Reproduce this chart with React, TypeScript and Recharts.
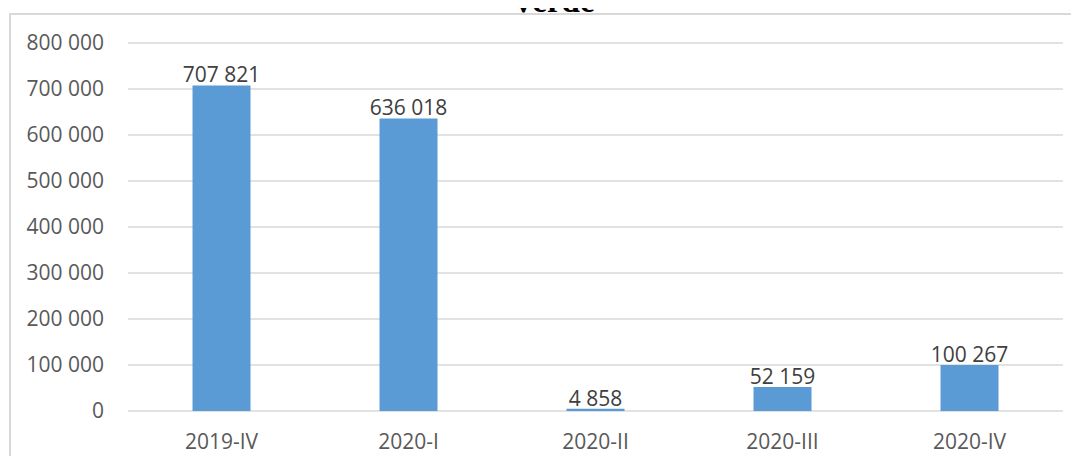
import React from 'react';
import { BarChart, Bar, XAxis, YAxis, CartesianGrid, LabelList } from 'recharts';

const categories = ['2019-IV', '2020-I', '2020-II', '2020-III', '2020-IV'];
const values = [707821, 636018, 4858, 52159, 100267];
const yTicks = [0, 100000, 200000, 300000, 400000, 500000, 600000, 700000, 800000];

const chartData = categories.map((name, i) => ({ name, value: values[i] }));

// 707821 -> "707 821"
const fmt = (n: number) => String(n).replace(/\B(?=(\d{3})+(?!\d))/g, ' ');
// bar labels get the bar width and would wrap on a normal space
const fmtLabel = (n: number) => String(n).replace(/\B(?=(\d{3})+(?!\d))/g, '\u00a0');

const font = '"Open Sans", sans-serif';

const App: React.FC = () => {
    return (
        <div style={{ position: 'relative', width: 1079, height: 464, margin: -8, overflow: 'hidden', background: '#fff' }}>
            {/* chart frame, right and bottom edges sit outside the picture */}
            <div
                style={{
                    position: 'absolute',
                    left: 9,
                    top: 13,
                    width: 1100,
                    height: 500,
                    borderLeft: '2px solid #d9d9d9',
                    borderTop: '2px solid #d9d9d9',
                }}
            />
            <div style={{ position: 'absolute', left: 0, top: 0 }}>
                <BarChart
                    width={1079}
                    height={464}
                    data={chartData}
                    margin={{ top: 43, right: 16, left: 0, bottom: 0 }}
                    barCategoryGap="34.5%"
                >
                    <CartesianGrid vertical={false} stroke="#d9d9d9" strokeWidth={1.5} />
                    <XAxis
                        dataKey="name"
                        axisLine={false}
                        tickLine={false}
                        tickSize={0}
                        tickMargin={23}
                        height={53}
                        tick={{ fill: '#595959', fontSize: 21, fontFamily: font }}
                    />
                    <YAxis
                        width={128}
                        domain={[0, 800000]}
                        ticks={yTicks}
                        interval={0}
                        axisLine={false}
                        tickLine={false}
                        tickSize={0}
                        tickMargin={24}
                        tickFormatter={fmt}
                        tick={{ fill: '#595959', fontSize: 21, fontFamily: font }}
                    />
                    <Bar dataKey="value" fill="#5b9bd5" isAnimationActive={false}>
                        <LabelList
                            dataKey="value"
                            position="top"
                            offset={3}
                            formatter={(v: any) => fmtLabel(Number(v))}
                            style={{ fill: '#404040', fontSize: 21, fontFamily: font }}
                        />
                    </Bar>
                </BarChart>
            </div>
            {/* title, only its lower part shows above the frame */}
            <svg width={1079} height={40} style={{ position: 'absolute', left: 0, top: 0, zIndex: 2 }}>
                <text
                    x={553}
                    y={12}
                    textAnchor="middle"
                    fontFamily='"Liberation Serif", serif'
                    fontWeight="bold"
                    fontSize={33}
                    fill="#000"
                >
                    Verde
                </text>
            </svg>
        </div>
    );
};

export default App;
